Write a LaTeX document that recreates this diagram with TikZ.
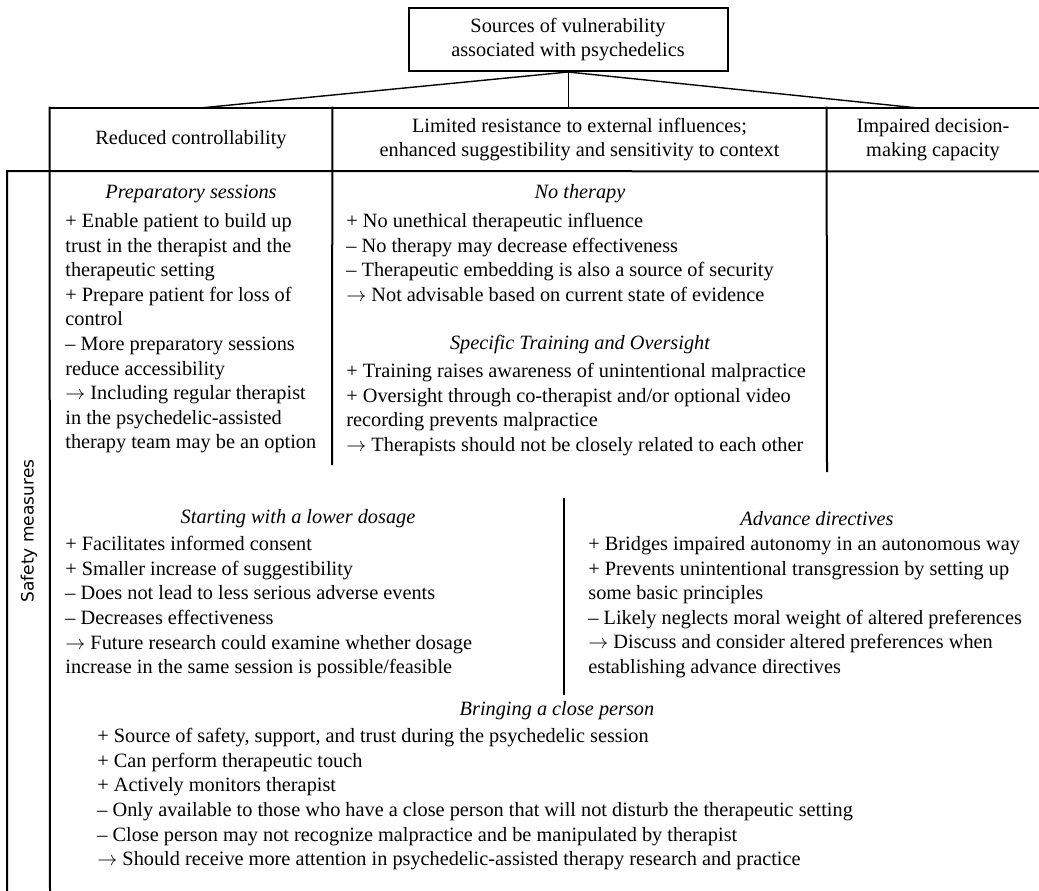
\documentclass[tikz,border=0pt]{standalone}
\usepackage{fontspec}
\setmainfont{Liberation Serif}
\newfontfamily\sidefont{DejaVu Sans}
\usetikzlibrary{positioning}
\newcommand{\thento}{$\rightarrow$}
\begin{document}
\begin{tikzpicture}[x=0.5pt,y=-0.5pt,line cap=rect,font=\fontsize{10.15}{12.3}\selectfont,
  frame/.style={line width=1pt},
  cell/.style={inner sep=0pt,align=center,minimum height=31.5pt},
  ttl/.style={inner sep=0pt,font=\fontsize{10.15}{12.3}\selectfont\itshape},
  body/.style={inner sep=0pt,align=left,anchor=north west}]
\useasboundingbox (0,0) rectangle (1039,890);
% vulnerability source and its three kinds
\node[cell,draw,frame,minimum width=159.5pt] (src) at (568,39.5) {Sources of vulnerability\\associated with psychedelics};
\node[cell,minimum width=141pt] (hcA) at (191,139.5) {Reduced controllability};
\node[cell,minimum width=247.5pt] (hcB) at (579.5,139.5) {Limited resistance to external influences;\\enhanced suggestibility and sensitivity to context};
\node[cell,minimum width=106pt] (hcC) at (933,139.5) {Impaired decision-\\making capacity};
\coordinate (jA) at (200,108);
\coordinate (jC) at (918,108);
\draw[line width=0.7pt] (src.south)--(jA) (src.south)--(jC);
\draw[line width=0.5pt] (src.south)--(src.south|-hcB.north);
% table rules
\draw[frame] (hcA.north west)--(hcC.north east);
\draw[frame] (7,890)--(7,171)--(hcC.south east);
\draw[frame] (50,890)--(hcA.north west);
\draw[frame] (hcA.north east)--(332,464) (hcC.north west)--(827,471);
\draw[frame] (564,499)--(564,694);
\node[rotate=90,inner sep=0pt,font=\sidefont\fontsize{8.5}{10}\selectfont] (sm) at (29,531) {Safety measures};
% safety measures
\node[ttl] (tA) at (191,194) {Preparatory sessions};
\node[body] (bA) at (65,213) {+ Enable patient to build up\\trust in the therapist and the\\therapeutic setting\\+ Prepare patient for loss of\\control\\– More preparatory sessions\\reduce accessibility\\\thento{} Including regular therapist\\in the psychedelic-assisted\\therapy team may be an option};
\node[ttl] (tB) at (580,194) {No therapy};
\node[body] (bB) at (346,213) {+ No unethical therapeutic influence\\– No therapy may decrease effectiveness\\– Therapeutic embedding is also a source of security\\\thento{} Not advisable based on current state of evidence};
\node[ttl] (tC) at (580,345) {Specific Training and Oversight};
\node[body] (bC) at (346,363) {+ Training raises awareness of unintentional malpractice\\+ Oversight through co-therapist and/or optional video\\recording prevents malpractice\\\thento{} Therapists should not be closely related to each other};
\node[ttl] (tD) at (298,519) {Starting with a lower dosage};
\node[body] (bD) at (65,536) {+ Facilitates informed consent\\+ Smaller increase of suggestibility\\– Does not lead to less serious adverse events\\– Decreases effectiveness\\\thento{} Future research could examine whether dosage\\increase in the same session is possible/feasible};
\node[ttl] (tE) at (817,519) {Advance directives};
\node[body] (bE) at (588,536) {+ Bridges impaired autonomy in an autonomous way\\+ Prevents unintentional transgression by setting up\\some basic principles\\– Likely neglects moral weight of altered preferences\\\thento{} Discuss and consider altered preferences when\\establishing advance directives};
\node[ttl] (tF) at (557,711) {Bringing a close person};
\node[body] (bF) at (97,728) {+ Source of safety, support, and trust during the psychedelic session\\+ Can perform therapeutic touch\\+ Actively monitors therapist\\– Only available to those who have a close person that will not disturb the therapeutic setting\\– Close person may not recognize malpractice and be manipulated by therapist\\\thento{} Should receive more attention in psychedelic-assisted therapy research and practice};
\end{tikzpicture}
\end{document}
